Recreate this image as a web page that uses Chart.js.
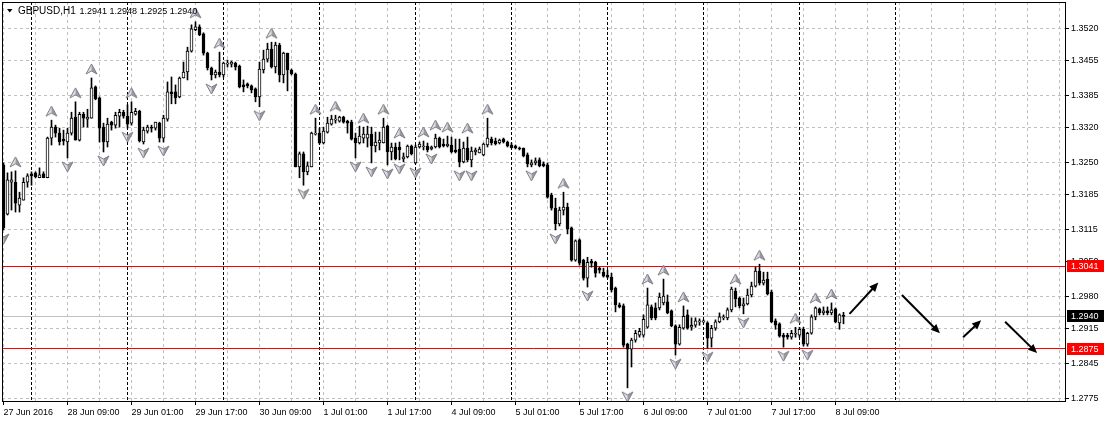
<!DOCTYPE html>
<html>
<head>
<meta charset="utf-8">
<title>GBPUSD,H1</title>
<script src="https://cdn.jsdelivr.net/npm/chart.js@4.4.0/dist/chart.umd.min.js"></script>
<style>
  html, body { margin: 0; padding: 0; background: #fff; }
  #wrap { width: 1105px; height: 422px; }
</style>
</head>
<body>
<div id="wrap"><canvas id="myChart" width="1105" height="422"></canvas></div>
<script>
// GBPUSD H1 candles, 27 Jun 2016 - 8 Jul 2016 (one entry per hourly bar)
const opens = [
  1.3245, 1.3146, 1.3210, 1.3210, 1.3164, 1.3174, 1.3210, 1.3227, 1.3229, 1.3219,
  1.3227, 1.3219, 1.3299, 1.3321, 1.3309, 1.3297, 1.3291, 1.3309, 1.3341, 1.3295,
  1.3347, 1.3337, 1.3339, 1.3402, 1.3380, 1.3321, 1.3291, 1.3331, 1.3325, 1.3343,
  1.3351, 1.3343, 1.3329, 1.3347, 1.3353, 1.3291, 1.3313, 1.3321, 1.3319, 1.3329,
  1.3299, 1.3337, 1.3392, 1.3392, 1.3382, 1.3420, 1.3432, 1.3474, 1.3517, 1.3523,
  1.3509, 1.3470, 1.3440, 1.3426, 1.3432, 1.3426, 1.3448, 1.3448, 1.3450, 1.3444,
  1.3406, 1.3408, 1.3404, 1.3398, 1.3382, 1.3436, 1.3458, 1.3478, 1.3442, 1.3486,
  1.3426, 1.3470, 1.3436, 1.3428, 1.3241, 1.3267, 1.3231, 1.3241, 1.3307, 1.3309,
  1.3289, 1.3311, 1.3327, 1.3335, 1.3333, 1.3341, 1.3333, 1.3331, 1.3299, 1.3289,
  1.3299, 1.3299, 1.3307, 1.3283, 1.3289, 1.3289, 1.3323, 1.3271, 1.3281, 1.3281,
  1.3257, 1.3261, 1.3283, 1.3249, 1.3281, 1.3281, 1.3283, 1.3277, 1.3281, 1.3299,
  1.3287, 1.3283, 1.3285, 1.3275, 1.3277, 1.3251, 1.3279, 1.3255, 1.3271, 1.3269,
  1.3265, 1.3285, 1.3297, 1.3293, 1.3289, 1.3297, 1.3291, 1.3285, 1.3283, 1.3279,
  1.3279, 1.3265, 1.3245, 1.3249, 1.3255, 1.3247, 1.3245, 1.3184, 1.3158, 1.3126,
  1.3154, 1.3160, 1.3118, 1.3053, 1.3094, 1.3053, 1.3017, 1.3051, 1.3049, 1.3037,
  1.3029, 1.3023, 1.3019, 1.2997, 1.2963, 1.2961, 1.2884, 1.2874, 1.2892, 1.2902,
  1.2902, 1.2918, 1.2959, 1.2957, 1.2957, 1.2967, 1.2969, 1.2951, 1.2921, 1.2884,
  1.2916, 1.2943, 1.2918, 1.2922, 1.2929, 1.2929, 1.2927, 1.2896, 1.2916, 1.2929,
  1.2937, 1.2937, 1.2953, 1.2991, 1.2977, 1.2961, 1.2965, 1.2983, 1.3001, 1.3031,
  1.3007, 1.3015, 1.2989, 1.2931, 1.2925, 1.2902, 1.2902, 1.2898, 1.2904, 1.2902,
  1.2914, 1.2884, 1.2906, 1.2939, 1.2955, 1.2947, 1.2951, 1.2947, 1.2955, 1.2927,
  1.2941
];
const highs = [
  1.3249, 1.3229, 1.3231, 1.3233, 1.3190, 1.3219, 1.3227, 1.3231, 1.3231, 1.3239,
  1.3231, 1.3301, 1.3335, 1.3325, 1.3319, 1.3315, 1.3319, 1.3351, 1.3372, 1.3351,
  1.3351, 1.3357, 1.3420, 1.3404, 1.3382, 1.3329, 1.3339, 1.3333, 1.3351, 1.3357,
  1.3355, 1.3366, 1.3372, 1.3359, 1.3355, 1.3321, 1.3325, 1.3325, 1.3331, 1.3331,
  1.3345, 1.3412, 1.3422, 1.3406, 1.3422, 1.3452, 1.3482, 1.3527, 1.3533, 1.3527,
  1.3511, 1.3472, 1.3442, 1.3436, 1.3472, 1.3452, 1.3456, 1.3454, 1.3452, 1.3446,
  1.3416, 1.3410, 1.3406, 1.3400, 1.3452, 1.3476, 1.3490, 1.3492, 1.3492, 1.3490,
  1.3472, 1.3470, 1.3438, 1.3430, 1.3271, 1.3271, 1.3251, 1.3311, 1.3339, 1.3319,
  1.3321, 1.3341, 1.3345, 1.3345, 1.3343, 1.3343, 1.3335, 1.3335, 1.3309, 1.3323,
  1.3321, 1.3323, 1.3321, 1.3311, 1.3311, 1.3339, 1.3325, 1.3289, 1.3289, 1.3291,
  1.3269, 1.3285, 1.3285, 1.3285, 1.3291, 1.3293, 1.3289, 1.3283, 1.3307, 1.3301,
  1.3297, 1.3303, 1.3301, 1.3297, 1.3297, 1.3291, 1.3301, 1.3281, 1.3279, 1.3281,
  1.3289, 1.3339, 1.3301, 1.3299, 1.3297, 1.3299, 1.3293, 1.3289, 1.3285, 1.3281,
  1.3279, 1.3269, 1.3255, 1.3259, 1.3259, 1.3251, 1.3249, 1.3188, 1.3178, 1.3160,
  1.3190, 1.3168, 1.3120, 1.3094, 1.3096, 1.3055, 1.3059, 1.3055, 1.3051, 1.3039,
  1.3037, 1.3033, 1.3027, 1.2999, 1.2967, 1.2965, 1.2886, 1.2896, 1.2912, 1.2916,
  1.2943, 1.2997, 1.2963, 1.2967, 1.2987, 1.3015, 1.2983, 1.2953, 1.2923, 1.2923,
  1.2961, 1.2953, 1.2937, 1.2937, 1.2935, 1.2933, 1.2929, 1.2922, 1.2933, 1.2947,
  1.2943, 1.2957, 1.2999, 1.2997, 1.2979, 1.2977, 1.2995, 1.3009, 1.3039, 1.3045,
  1.3029, 1.3029, 1.2993, 1.2935, 1.2927, 1.2906, 1.2906, 1.2912, 1.2918, 1.2918,
  1.2918, 1.2908, 1.2943, 1.2959, 1.2957, 1.2959, 1.2959, 1.2967, 1.2957, 1.2945,
  1.2948
];
const lows = [
  1.3114, 1.3144, 1.3154, 1.3150, 1.3150, 1.3174, 1.3200, 1.3204, 1.3219, 1.3219,
  1.3219, 1.3219, 1.3285, 1.3301, 1.3285, 1.3285, 1.3259, 1.3305, 1.3295, 1.3293,
  1.3321, 1.3321, 1.3339, 1.3376, 1.3291, 1.3271, 1.3281, 1.3315, 1.3319, 1.3321,
  1.3339, 1.3319, 1.3325, 1.3345, 1.3291, 1.3287, 1.3309, 1.3311, 1.3315, 1.3291,
  1.3291, 1.3333, 1.3368, 1.3368, 1.3380, 1.3420, 1.3416, 1.3472, 1.3515, 1.3505,
  1.3466, 1.3436, 1.3416, 1.3420, 1.3422, 1.3422, 1.3442, 1.3442, 1.3436, 1.3400,
  1.3392, 1.3400, 1.3390, 1.3372, 1.3362, 1.3430, 1.3452, 1.3440, 1.3430, 1.3412,
  1.3410, 1.3394, 1.3426, 1.3241, 1.3219, 1.3204, 1.3225, 1.3241, 1.3305, 1.3287,
  1.3287, 1.3309, 1.3325, 1.3329, 1.3331, 1.3329, 1.3309, 1.3295, 1.3259, 1.3287,
  1.3289, 1.3281, 1.3249, 1.3271, 1.3275, 1.3289, 1.3245, 1.3255, 1.3255, 1.3255,
  1.3251, 1.3259, 1.3265, 1.3247, 1.3279, 1.3275, 1.3271, 1.3275, 1.3279, 1.3279,
  1.3281, 1.3281, 1.3269, 1.3269, 1.3241, 1.3249, 1.3251, 1.3241, 1.3265, 1.3269,
  1.3263, 1.3281, 1.3285, 1.3285, 1.3287, 1.3289, 1.3281, 1.3279, 1.3277, 1.3275,
  1.3261, 1.3241, 1.3241, 1.3245, 1.3241, 1.3241, 1.3178, 1.3154, 1.3114, 1.3122,
  1.3144, 1.3106, 1.3051, 1.3051, 1.3043, 1.3013, 1.2999, 1.3039, 1.3019, 1.3027,
  1.3019, 1.3017, 1.2989, 1.2949, 1.2957, 1.2878, 1.2796, 1.2838, 1.2888, 1.2898,
  1.2898, 1.2916, 1.2933, 1.2933, 1.2953, 1.2963, 1.2945, 1.2919, 1.2862, 1.2882,
  1.2914, 1.2914, 1.2912, 1.2918, 1.2922, 1.2927, 1.2876, 1.2878, 1.2912, 1.2927,
  1.2933, 1.2933, 1.2949, 1.2959, 1.2957, 1.2945, 1.2963, 1.2979, 1.2999, 1.3003,
  1.3003, 1.2983, 1.2927, 1.2914, 1.2898, 1.2878, 1.2894, 1.2894, 1.2898, 1.2898,
  1.2880, 1.2880, 1.2904, 1.2933, 1.2943, 1.2943, 1.2943, 1.2943, 1.2927, 1.2914,
  1.2925
];
const closes = [
  1.3118, 1.3215, 1.3215, 1.3168, 1.3178, 1.3210, 1.3223, 1.3223, 1.3221, 1.3225,
  1.3219, 1.3299, 1.3321, 1.3309, 1.3291, 1.3293, 1.3309, 1.3339, 1.3295, 1.3347,
  1.3339, 1.3341, 1.3400, 1.3378, 1.3319, 1.3291, 1.3327, 1.3325, 1.3345, 1.3351,
  1.3343, 1.3327, 1.3351, 1.3353, 1.3293, 1.3315, 1.3321, 1.3319, 1.3331, 1.3299,
  1.3339, 1.3392, 1.3388, 1.3380, 1.3420, 1.3432, 1.3474, 1.3519, 1.3523, 1.3507,
  1.3470, 1.3440, 1.3426, 1.3432, 1.3426, 1.3450, 1.3450, 1.3452, 1.3442, 1.3402,
  1.3402, 1.3404, 1.3396, 1.3382, 1.3438, 1.3458, 1.3478, 1.3442, 1.3486, 1.3426,
  1.3470, 1.3436, 1.3428, 1.3241, 1.3267, 1.3231, 1.3243, 1.3309, 1.3309, 1.3289,
  1.3313, 1.3329, 1.3337, 1.3337, 1.3341, 1.3331, 1.3329, 1.3297, 1.3289, 1.3303,
  1.3307, 1.3307, 1.3283, 1.3291, 1.3295, 1.3321, 1.3271, 1.3281, 1.3257, 1.3275,
  1.3261, 1.3283, 1.3267, 1.3281, 1.3287, 1.3283, 1.3275, 1.3281, 1.3299, 1.3281,
  1.3283, 1.3287, 1.3271, 1.3271, 1.3251, 1.3279, 1.3255, 1.3273, 1.3275, 1.3277,
  1.3287, 1.3299, 1.3289, 1.3287, 1.3295, 1.3291, 1.3283, 1.3279, 1.3279, 1.3277,
  1.3263, 1.3247, 1.3249, 1.3253, 1.3243, 1.3243, 1.3180, 1.3158, 1.3126, 1.3154,
  1.3160, 1.3116, 1.3053, 1.3092, 1.3047, 1.3017, 1.3049, 1.3047, 1.3027, 1.3033,
  1.3021, 1.3019, 1.2993, 1.2963, 1.2959, 1.2882, 1.2874, 1.2892, 1.2906, 1.2910,
  1.2934, 1.2963, 1.2937, 1.2937, 1.2979, 1.2981, 1.2947, 1.2921, 1.2884, 1.2918,
  1.2940, 1.2916, 1.2922, 1.2931, 1.2931, 1.2931, 1.2896, 1.2916, 1.2929, 1.2939,
  1.2939, 1.2953, 1.2995, 1.2975, 1.2961, 1.2965, 1.2983, 1.3001, 1.3031, 1.3007,
  1.3013, 1.2985, 1.2929, 1.2922, 1.2900, 1.2898, 1.2898, 1.2906, 1.2906, 1.2914,
  1.2884, 1.2906, 1.2939, 1.2957, 1.2947, 1.2951, 1.2947, 1.2953, 1.2929, 1.2943,
  1.2940
];

// Bill Williams fractals (bar numbers)
const upFractals = [3, 12, 18, 22, 32, 48, 54, 67, 78, 83, 90, 95, 99, 105, 108, 111, 116, 121, 140, 161, 165, 170, 183, 189, 198, 203, 207];
const downFractals = [0, 16, 25, 31, 35, 40, 52, 64, 75, 88, 92, 96, 99, 103, 107, 114, 117, 132, 138, 146, 156, 168, 176, 185, 195, 201];

// time axis
const timeLabelBars = [0, 16, 32, 48, 64, 80, 96, 112, 128, 144, 160, 176, 192, 208];
const timeLabels = ["27 Jun 2016", "28 Jun 09:00", "29 Jun 01:00", "29 Jun 17:00", "30 Jun 09:00", "1 Jul 01:00", "1 Jul 17:00",
  "4 Jul 09:00", "5 Jul 01:00", "5 Jul 17:00", "6 Jul 09:00", "7 Jul 01:00", "7 Jul 17:00", "8 Jul 09:00"];
const dayStartBars = [7, 31, 55, 79, 103, 127, 151, 175, 199, 223];

// price axis
const priceTicks = [1.3520, 1.3455, 1.3385, 1.3320, 1.3250, 1.3185, 1.3115, 1.3050, 1.2980, 1.2915, 1.2845, 1.2775];
const hiddenGridTick = 1.3050;

const resistance = 1.3041;
const support = 1.2875;
const bid = 1.2940;
const symbolName = "GBPUSD,H1";
const lastOHLC = [1.2941, 1.2948, 1.2925, 1.2940];

// hand drawn forecast arrows (bar, price)
const arrowFromBar = [211.5, 224.6, 239.9, 250.4];
const arrowFromPrice = [1.2945, 1.2983, 1.2898, 1.2929];
const arrowToBar = [218.7, 234.1, 244.4, 258.4];
const arrowToPrice = [1.3008, 1.2906, 1.2932, 1.2866];

const FONT = "'Liberation Sans', Arial, sans-serif";
Chart.defaults.font.family = FONT;
Chart.defaults.font.size = 9;
Chart.defaults.color = "#000";

function fractalIcon(up) {
  const c = document.createElement("canvas");
  c.width = 13;
  c.height = 38;
  const g = c.getContext("2d");
  g.translate(6.5, up ? 10 : 28);
  if (!up) g.scale(1, -1);
  g.beginPath();
  g.moveTo(0, -5); g.lineTo(-5.5, 5); g.lineTo(0, 2); g.closePath();
  g.fillStyle = "#dcdce4"; g.fill();
  g.beginPath();
  g.moveTo(0, -5); g.lineTo(5.5, 5); g.lineTo(0, 2); g.closePath();
  g.fillStyle = "#9a9aa4"; g.fill();
  g.beginPath();
  g.moveTo(0, -5); g.lineTo(5.5, 5); g.lineTo(0, 2); g.lineTo(-5.5, 5); g.closePath();
  g.strokeStyle = "#7c7c84"; g.lineWidth = 1; g.stroke();
  return c;
}

const xMin = -0.375, xMax = 265.375;
const yMax = 1.357296, yMin = 1.276956;

// no extra room for half labels at the ends of the axes
function noPad(s) {
  s.paddingTop = 0;
  s.paddingBottom = 0;
  s.paddingLeft = 0;
  s.paddingRight = 0;
}

const mtOverlay = {
  id: "mtOverlay",
  beforeDatasetsDraw(chart) {
    const { ctx, chartArea: a, scales: { x, y } } = chart;
    ctx.save();
    ctx.strokeStyle = "#000";
    ctx.lineWidth = 1;
    ctx.setLineDash([3, 2]);
    dayStartBars.forEach(b => {
      const px = Math.round(x.getPixelForValue(b) - 0.5) + 0.5;
      ctx.beginPath(); ctx.moveTo(px, a.top); ctx.lineTo(px, a.bottom); ctx.stroke();
    });
    ctx.setLineDash([]);
    [[bid, "#c0c0c0"], [resistance, "#ff0000"], [support, "#ff0000"]].forEach(([v, col]) => {
      const py = Math.round(y.getPixelForValue(v) - 0.5) + 0.5;
      ctx.strokeStyle = col;
      ctx.beginPath(); ctx.moveTo(a.left, py); ctx.lineTo(a.right, py); ctx.stroke();
    });
    ctx.restore();
  },
  afterDraw(chart) {
    const { ctx, chartArea: a, scales: { x, y } } = chart;
    ctx.save();

    // arrows
    ctx.strokeStyle = "#000";
    ctx.fillStyle = "#000";
    ctx.lineWidth = 2;
    arrowFromBar.forEach((b, i) => {
      const x1 = x.getPixelForValue(b), y1 = y.getPixelForValue(arrowFromPrice[i]);
      const x2 = x.getPixelForValue(arrowToBar[i]), y2 = y.getPixelForValue(arrowToPrice[i]);
      const ang = Math.atan2(y2 - y1, x2 - x1);
      const len = 9, w = 4;
      ctx.beginPath();
      ctx.moveTo(x1, y1);
      ctx.lineTo(x2 - Math.cos(ang) * 6, y2 - Math.sin(ang) * 6);
      ctx.stroke();
      ctx.beginPath();
      ctx.moveTo(x2, y2);
      ctx.lineTo(x2 - len * Math.cos(ang) + w * Math.sin(ang), y2 - len * Math.sin(ang) - w * Math.cos(ang));
      ctx.lineTo(x2 - len * Math.cos(ang) - w * Math.sin(ang), y2 - len * Math.sin(ang) + w * Math.cos(ang));
      ctx.closePath();
      ctx.fill();
    });

    // frame
    ctx.lineWidth = 1;
    ctx.strokeRect(a.left + 0.5, a.top + 0.5, a.right - a.left, a.bottom - a.top);

    // price boxes on the right scale
    ctx.font = "9px " + FONT;
    ctx.textBaseline = "middle";
    ctx.textAlign = "left";
    [[resistance, "#ff0000"], [bid, "#000000"], [support, "#ff0000"]].forEach(([v, col]) => {
      const py = Math.round(y.getPixelForValue(v));
      ctx.fillStyle = col;
      ctx.fillRect(a.right + 2, py - 6, 37, 12);
      ctx.fillStyle = "#fff";
      ctx.fillText(v.toFixed(4), a.right + 6, py + 0.5);
    });

    // title
    ctx.fillStyle = "#000";
    ctx.beginPath();
    ctx.moveTo(7, 9); ctx.lineTo(12.5, 9); ctx.lineTo(9.75, 12.5); ctx.closePath(); ctx.fill();
    ctx.textBaseline = "alphabetic";
    ctx.font = "10px " + FONT;
    ctx.fillText(symbolName, 18, 14);
    const w0 = ctx.measureText(symbolName + " ").width;
    ctx.font = "9px " + FONT;
    ctx.fillText(lastOHLC.map(v => v.toFixed(4)).join(" "), 18 + w0 + 1, 14);
    ctx.restore();
  }
};

const bars = opens.map((o, i) => i);

new Chart(document.getElementById("myChart"), {
  type: "bar",
  data: {
    datasets: [
      {
        type: "scatter",
        label: "fractal up",
        data: upFractals.map(i => ({ x: i, y: highs[i] })),
        pointStyle: fractalIcon(true),
        pointRadius: 6,
        order: 0
      },
      {
        type: "scatter",
        label: "fractal down",
        data: downFractals.map(i => ({ x: i, y: lows[i] })),
        pointStyle: fractalIcon(false),
        pointRadius: 6,
        order: 0
      },
      {
        label: "body",
        data: bars.map(i => ({ x: i, y: [opens[i], closes[i]] })),
        backgroundColor: bars.map(i => (closes[i] >= opens[i] ? "#ffffff" : "#000000")),
        borderColor: "#000",
        borderWidth: 1,
        borderSkipped: false,
        barThickness: 3,
        minBarLength: 1,
        grouped: false,
        order: 1
      },
      {
        label: "wick",
        data: bars.map(i => ({ x: i, y: [lows[i], highs[i]] })),
        backgroundColor: "#000",
        borderWidth: 0,
        barThickness: 1,
        grouped: false,
        order: 2
      }
    ]
  },
  options: {
    responsive: false,
    animation: false,
    devicePixelRatio: 1,
    layout: { autoPadding: false, padding: { left: 2, top: 2, right: 0, bottom: 0 } },
    plugins: { legend: { display: false }, tooltip: { enabled: false } },
    scales: {
      x: {
        type: "linear",
        position: "bottom",
        min: xMin,
        max: xMax,
        offset: false,
        afterBuildTicks: s => {
          const t = [];
          for (let v = 0; v <= 264; v += 8) t.push({ value: v });
          s.ticks = t;
        },
        afterFit: s => { s.height = 0; noPad(s); },
        ticks: { display: false },
        grid: { offset: false, drawTicks: false, color: "#c0c0c0", lineWidth: 1 },
        border: { display: false, dash: [3, 3] }
      },
      x2: {
        type: "linear",
        position: "bottom",
        min: xMin,
        max: xMax,
        offset: false,
        afterBuildTicks: s => { s.ticks = timeLabelBars.map(v => ({ value: v })); },
        afterFit: s => { s.height = 21; noPad(s); },
        ticks: {
          autoSkip: false,
          maxRotation: 0,
          align: "start",
          padding: 2,
          color: "#000",
          font: { size: 9 },
          callback: v => timeLabels[timeLabelBars.indexOf(v)]
        },
        grid: { offset: false, drawOnChartArea: false, drawTicks: true, tickLength: 4, tickColor: "#000" },
        border: { display: false }
      },
      y: {
        type: "linear",
        position: "right",
        min: yMin,
        max: yMax,
        afterBuildTicks: s => { s.ticks = priceTicks.map(v => ({ value: v })); },
        afterFit: s => { s.width = 40; noPad(s); },
        ticks: {
          padding: 2,
          color: "#000",
          font: { size: 9 },
          callback: v => Number(v).toFixed(4)
        },
        grid: {
          color: c => (c.tick && c.tick.value === hiddenGridTick ? "rgba(0,0,0,0)" : "#c0c0c0"),
          tickColor: "#000",
          tickLength: 4,
          lineWidth: 1
        },
        border: { display: false, dash: [3, 3] }
      }
    }
  },
  plugins: [mtOverlay]
});
</script>
</body>
</html>
